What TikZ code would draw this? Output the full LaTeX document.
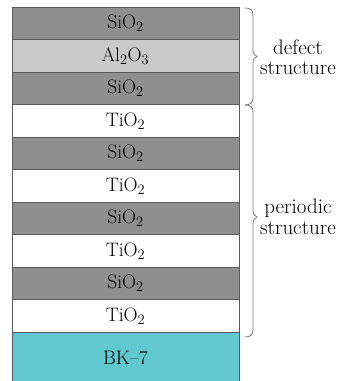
\documentclass[tikz,border=0pt]{standalone}
\usetikzlibrary{positioning}
\definecolor{silica}{RGB}{143,143,143}
\definecolor{alumina}{RGB}{201,201,201}
\definecolor{glass}{RGB}{98,200,208}
\definecolor{edge}{RGB}{90,90,90}
\definecolor{bracecol}{RGB}{120,120,120}
\begin{document}
\begin{tikzpicture}[x=1pt,y=1pt,
  layer/.style={draw=edge, line width=0.9pt, minimum width=227pt, minimum height=32.5pt,
    inner sep=0pt, outer sep=0pt, font=\fontsize{19.5}{21}\selectfont, anchor=north},
  sio/.style={layer, fill=silica},
  alo/.style={layer, fill=alumina},
  tio/.style={layer, fill=white},
  sub/.style={layer, fill=glass, minimum height=54pt},
  bracepath/.style={draw=bracecol, line width=0.8pt},
  tag/.style={align=center, font=\fontsize{21}{20.5}\selectfont}]
\useasboundingbox (0,0) rectangle (349,381);
% layer stack, top to bottom
\node[sio] (l0) at (125.5,374) {SiO$_2$};
\node[alo, below=0pt of l0] (l1) {Al$_2$O$_3$};
\node[sio, below=0pt of l1] (l2) {SiO$_2$};
\node[tio, below=0pt of l2] (l3) {TiO$_2$};
\node[sio, below=0pt of l3] (l4) {SiO$_2$};
\node[tio, below=0pt of l4] (l5) {TiO$_2$};
\node[sio, below=0pt of l5] (l6) {SiO$_2$};
\node[tio, below=0pt of l6] (l7) {TiO$_2$};
\node[sio, below=0pt of l7] (l8) {SiO$_2$};
\node[tio, below=0pt of l8] (l9) {TiO$_2$};
\node[sub, below=0pt of l9] (bk) {\raisebox{3pt}{BK--7}};
% defect structure brace
\draw[bracepath] (245,373) .. controls (250,373) and (253,371) .. (253,366)
  -- (253,331) .. controls (253,327) and (255,325) .. (257,324.5)
  .. controls (255,324) and (253,322) .. (253,318)
  -- (253,283) .. controls (253,278) and (250,276) .. (245,276);
% periodic structure brace
\draw[bracepath] (245,276) .. controls (250,276) and (253,274) .. (253,269)
  -- (253,171) .. controls (253,167) and (255,164.5) .. (257,164)
  .. controls (255,163.5) and (253,161) .. (253,157)
  -- (253,51) .. controls (253,46) and (250,44) .. (245,44);
\node[tag] (defect) at (298,324) {defect\\structure};
\node[tag] (periodic) at (298,164) {periodic\\structure};
\end{tikzpicture}
\end{document}
